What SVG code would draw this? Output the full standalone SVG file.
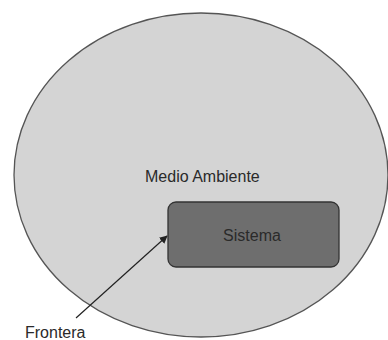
<svg xmlns="http://www.w3.org/2000/svg" width="388" height="340" viewBox="0 0 388 340">
<style>
text{font-family:"Liberation Sans",Arial,sans-serif;font-size:16px;fill:#2a2a2a}
.conn{stroke:#222;stroke-width:1.2;fill:none}
</style>
<defs>
<marker id="ah" viewBox="0 0 10 10" refX="9" refY="5" markerWidth="8" markerHeight="8" orient="auto" markerUnits="userSpaceOnUse">
<path d="M0,0 L10,5 L0,10 z" fill="#222"/>
</marker>
</defs>
<rect width="388" height="340" fill="#fff"/>
<g id="medio-ambiente">
<ellipse cx="201" cy="175" rx="187" ry="162" fill="#d4d4d4" stroke="#555" stroke-width="1.3"/>
<text x="145" y="182">Medio Ambiente</text>
</g>
<g id="sistema">
<rect x="168" y="202" width="171" height="65" rx="8" fill="#6e6e6e" stroke="#333" stroke-width="1.3"/>
<text x="252" y="241" text-anchor="middle">Sistema</text>
</g>
<g id="frontera">
<text x="25" y="338">Frontera</text>
</g>
<g id="connectors">
<line class="conn" x1="76" y1="318" x2="167" y2="236" marker-end="url(#ah)"/>
</g>
</svg>
